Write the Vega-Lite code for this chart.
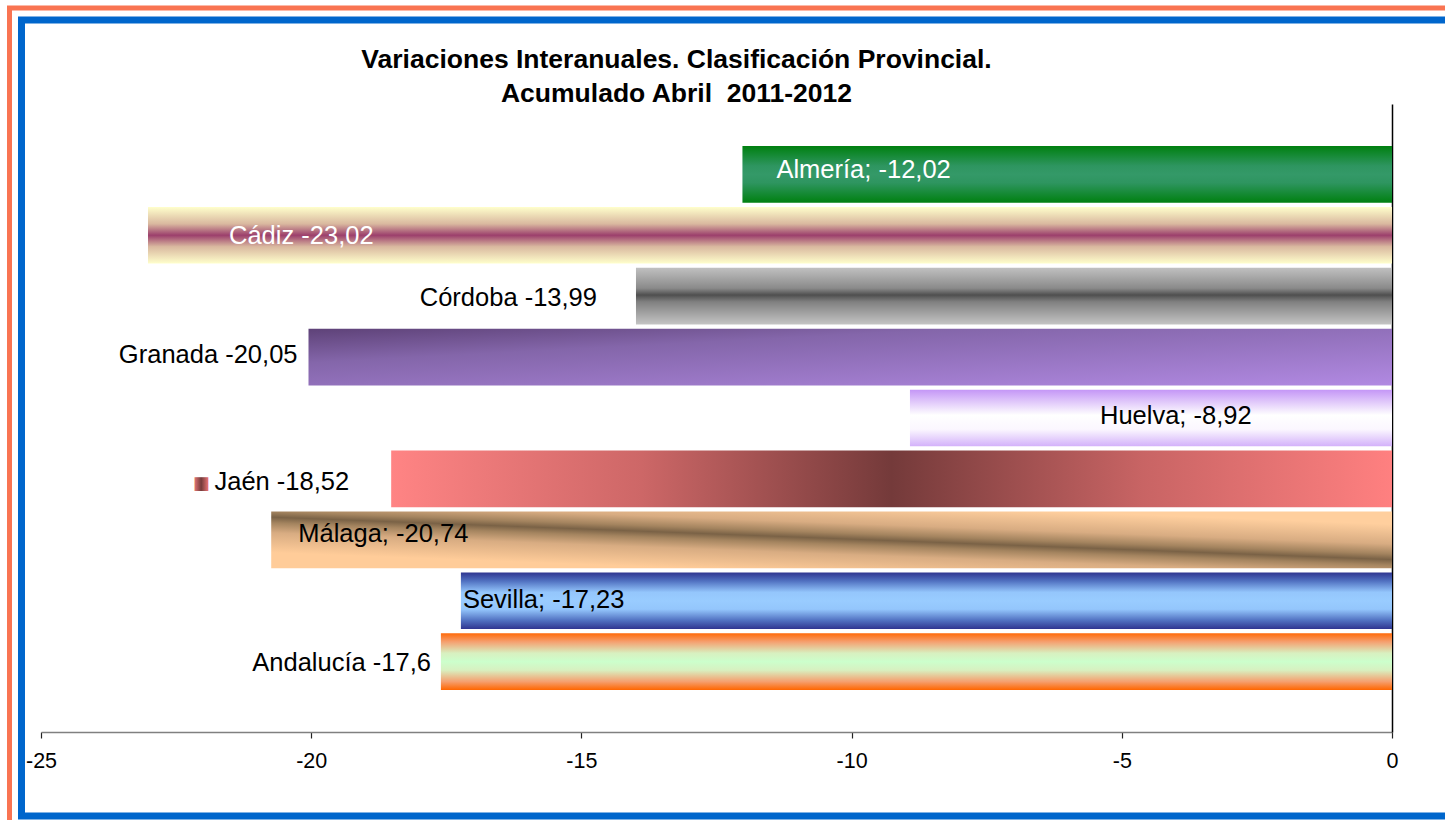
{
  "$schema": "https://vega.github.io/schema/vega-lite/v6.json",
  "width": 1351,
  "height": 628,
  "autosize": "none",
  "padding": {"left": 41, "top": 104, "right": 53, "bottom": 88},
  "background": "white",
  "config": {"view": {"stroke": null}, "font": "Liberation Sans"},
  "title": {
    "text": ["Variaciones Interanuales. Clasificación Provincial.", "Acumulado Abril \u00a02011-2012"],
    "font": "Liberation Sans",
    "fontSize": 26.5,
    "fontWeight": "bold",
    "color": "black",
    "anchor": "middle",
    "frame": "group",
    "dx": -40,
    "offset": -102,
    "lineHeight": 34
  },
  "data": {
    "values": [
      {"prov": "Almería", "label": "Almería; -12,02", "value": -12.02},
      {"prov": "Cádiz", "label": "Cádiz -23,02", "value": -23.02},
      {"prov": "Córdoba", "label": "Córdoba -13,99", "value": -13.99},
      {"prov": "Granada", "label": "Granada -20,05", "value": -20.05},
      {"prov": "Huelva", "label": "Huelva; -8,92", "value": -8.92},
      {"prov": "Jaén", "label": "Jaén -18,52", "value": -18.52},
      {"prov": "Málaga", "label": "Málaga; -20,74", "value": -20.74},
      {"prov": "Sevilla", "label": "Sevilla; -17,23", "value": -17.23},
      {"prov": "Andalucía", "label": "Andalucía -17,6", "value": -17.6}
    ]
  },
  "encoding": {
    "y": {
      "field": "prov",
      "type": "nominal",
      "sort": null,
      "scale": {"paddingInner": 0.07, "paddingOuter": 0.69},
      "axis": {"orient": "right", "title": null, "labels": false, "ticks": false, "domainColor": "black", "domainWidth": 1.5}
    },
    "x": {
      "field": "value",
      "type": "quantitative",
      "scale": {"domain": [-25, 0], "nice": false, "zero": false},
      "axis": {
        "title": null,
        "values": [-25, -20, -15, -10, -5, 0],
        "labelExpr": "toString(datum.value)",
        "grid": false,
        "domainColor": "#808080",
        "domainWidth": 1.5,
        "tickColor": "#222222",
        "tickSize": 6,
        "tickWidth": 1.2,
        "labelFontSize": 21.5,
        "labelFont": "Liberation Sans",
        "labelColor": "black",
        "labelPadding": 12,
        "labelFlush": false
      }
    }
  },
  "layer": [
    {
      "data": {"values": [{}]},
      "mark": {"type": "rect", "filled": false, "stroke": "#F97452", "strokeWidth": 5},
      "encoding": {"x": {"value": -31.5}, "x2": {"value": 1500}, "y": {"value": -96}, "y2": {"value": 900}}
    },
    {
      "data": {"values": [{}]},
      "mark": {"type": "rect", "filled": false, "stroke": "#0066CC", "strokeWidth": 7},
      "encoding": {"x": {"value": -19.5}, "x2": {"value": 1500}, "y": {"value": -84}, "y2": {"value": 712}}
    },
    {
      "transform": [{"filter": {"field": "prov", "equal": "Almería"}}],
      "mark": {"type": "bar", "fill": {"gradient": "linear", "x1": 0, "y1": 0, "x2": 0, "y2": 1, "stops": [{"offset": 0, "color": "#008010"}, {"offset": 0.35, "color": "#2E9560"}, {"offset": 0.5, "color": "#349968"}, {"offset": 0.65, "color": "#2E9560"}, {"offset": 1, "color": "#008010"}]}}
    },
    {
      "transform": [{"filter": {"field": "prov", "equal": "Cádiz"}}],
      "mark": {"type": "bar", "fill": {"gradient": "linear", "x1": 0, "y1": 0, "x2": 0, "y2": 1, "stops": [{"offset": 0, "color": "#FFFFCC"}, {"offset": 0.3, "color": "#D9B89F"}, {"offset": 0.5, "color": "#9C3F6C"}, {"offset": 0.7, "color": "#D9B89F"}, {"offset": 1, "color": "#FFFFCC"}]}}
    },
    {
      "transform": [{"filter": {"field": "prov", "equal": "Córdoba"}}],
      "mark": {"type": "bar", "fill": {"gradient": "linear", "x1": 0, "y1": 0, "x2": 0, "y2": 1, "stops": [{"offset": 0, "color": "#C0C0C0"}, {"offset": 0.36, "color": "#8A8A8A"}, {"offset": 0.48, "color": "#4F4F4F"}, {"offset": 0.6, "color": "#808080"}, {"offset": 1, "color": "#C4C4C4"}]}}
    },
    {
      "transform": [{"filter": {"field": "prov", "equal": "Granada"}}],
      "mark": {"type": "bar", "fill": {"gradient": "linear", "x1": 0, "y1": 0, "x2": 1, "y2": 1, "stops": [{"offset": 0, "color": "#5E4278"}, {"offset": 0.3, "color": "#8466AA"}, {"offset": 1, "color": "#B189E2"}]}}
    },
    {
      "transform": [{"filter": {"field": "prov", "equal": "Huelva"}}],
      "mark": {"type": "bar", "fill": {"gradient": "linear", "x1": 0, "y1": 0, "x2": 0, "y2": 1, "stops": [{"offset": 0, "color": "#C496F6"}, {"offset": 0.45, "color": "#FFFFFF"}, {"offset": 0.7, "color": "#FBF7FF"}, {"offset": 1, "color": "#D3B1FA"}]}}
    },
    {
      "transform": [{"filter": {"field": "prov", "equal": "Jaén"}}],
      "mark": {"type": "bar", "fill": {"gradient": "linear", "x1": 0, "y1": 0, "x2": 1, "y2": 0, "stops": [{"offset": 0, "color": "#FF8484"}, {"offset": 0.25, "color": "#CD6767"}, {"offset": 0.5, "color": "#743A3A"}, {"offset": 0.75, "color": "#C86464"}, {"offset": 1, "color": "#FF8080"}]}}
    },
    {
      "transform": [{"filter": {"field": "prov", "equal": "Málaga"}}],
      "mark": {"type": "bar", "fill": {"gradient": "linear", "x1": 0.8, "y1": 0.075, "x2": 0.2, "y2": 0.875, "stops": [{"offset": 0, "color": "#FFCF9E"}, {"offset": 0.28, "color": "#D8AC82"}, {"offset": 0.42, "color": "#A4845F"}, {"offset": 0.5, "color": "#7A6246"}, {"offset": 0.58, "color": "#A4845F"}, {"offset": 0.72, "color": "#D8AC82"}, {"offset": 1, "color": "#FFCC99"}]}}
    },
    {
      "transform": [{"filter": {"field": "prov", "equal": "Sevilla"}}],
      "mark": {"type": "bar", "fill": {"gradient": "linear", "x1": 0, "y1": 0, "x2": 0, "y2": 1, "stops": [{"offset": 0, "color": "#2F3590"}, {"offset": 0.15, "color": "#5070C0"}, {"offset": 0.35, "color": "#94C6FC"}, {"offset": 0.5, "color": "#99CCFF"}, {"offset": 0.65, "color": "#94C6FC"}, {"offset": 0.85, "color": "#5070C0"}, {"offset": 1, "color": "#2F3590"}]}}
    },
    {
      "transform": [{"filter": {"field": "prov", "equal": "Andalucía"}}],
      "mark": {"type": "bar", "fill": {"gradient": "linear", "x1": 0, "y1": 0, "x2": 0, "y2": 1, "stops": [{"offset": 0, "color": "#FF6A0A"}, {"offset": 0.15, "color": "#F5A070"}, {"offset": 0.35, "color": "#D8F0C0"}, {"offset": 0.5, "color": "#CCFFCC"}, {"offset": 0.65, "color": "#D8F0C0"}, {"offset": 0.85, "color": "#F5A070"}, {"offset": 1, "color": "#FF6600"}]}}
    },
    {
      "transform": [{"filter": {"field": "prov", "equal": "Almería"}}],
      "mark": {"type": "text", "align": "left", "baseline": "middle", "dx": 34, "dy": -4, "fontSize": 25.5, "font": "Liberation Sans", "color": "white"},
      "encoding": {"text": {"field": "label"}}
    },
    {
      "transform": [{"filter": {"field": "prov", "equal": "Cádiz"}}],
      "mark": {"type": "text", "align": "left", "baseline": "middle", "dx": 81, "dy": 1, "fontSize": 25.5, "font": "Liberation Sans", "color": "white"},
      "encoding": {"text": {"field": "label"}}
    },
    {
      "transform": [{"filter": {"field": "prov", "equal": "Córdoba"}}],
      "mark": {"type": "text", "align": "right", "baseline": "middle", "dx": -39, "dy": 2, "fontSize": 25.5, "font": "Liberation Sans", "color": "black"},
      "encoding": {"text": {"field": "label"}}
    },
    {
      "transform": [{"filter": {"field": "prov", "equal": "Granada"}}],
      "mark": {"type": "text", "align": "right", "baseline": "middle", "dx": -11, "dy": -2, "fontSize": 25.5, "font": "Liberation Sans", "color": "black"},
      "encoding": {"text": {"field": "label"}}
    },
    {
      "transform": [{"filter": {"field": "prov", "equal": "Huelva"}}],
      "mark": {"type": "text", "align": "left", "baseline": "middle", "dx": 190, "dy": -2, "fontSize": 25.5, "font": "Liberation Sans", "color": "black"},
      "encoding": {"text": {"field": "label"}}
    },
    {
      "transform": [{"filter": {"field": "prov", "equal": "Jaén"}}],
      "mark": {"type": "text", "align": "right", "baseline": "middle", "dx": -42, "dy": 3, "fontSize": 25.5, "font": "Liberation Sans", "color": "black"},
      "encoding": {"text": {"field": "label"}}
    },
    {
      "transform": [{"filter": {"field": "prov", "equal": "Jaén"}}],
      "mark": {"type": "text", "align": "center", "baseline": "middle", "dx": -190, "dy": 5, "fontSize": 18, "font": "DejaVu Sans", "text": "■", "fill": {"gradient": "linear", "x1": 0, "y1": 0, "x2": 1, "y2": 0, "stops": [{"offset": 0, "color": "#FF8484"}, {"offset": 0.5, "color": "#743A3A"}, {"offset": 1, "color": "#FF8080"}]}}
    },
    {
      "transform": [{"filter": {"field": "prov", "equal": "Málaga"}}],
      "mark": {"type": "text", "align": "left", "baseline": "middle", "dx": 27, "dy": -6, "fontSize": 25.5, "font": "Liberation Sans", "color": "black"},
      "encoding": {"text": {"field": "label"}}
    },
    {
      "transform": [{"filter": {"field": "prov", "equal": "Sevilla"}}],
      "mark": {"type": "text", "align": "left", "baseline": "middle", "dx": 2, "dy": -1, "fontSize": 25.5, "font": "Liberation Sans", "color": "black"},
      "encoding": {"text": {"field": "label"}}
    },
    {
      "transform": [{"filter": {"field": "prov", "equal": "Andalucía"}}],
      "mark": {"type": "text", "align": "right", "baseline": "middle", "dx": -10, "dy": 1, "fontSize": 25.5, "font": "Liberation Sans", "color": "black"},
      "encoding": {"text": {"field": "label"}}
    }
  ]
}
